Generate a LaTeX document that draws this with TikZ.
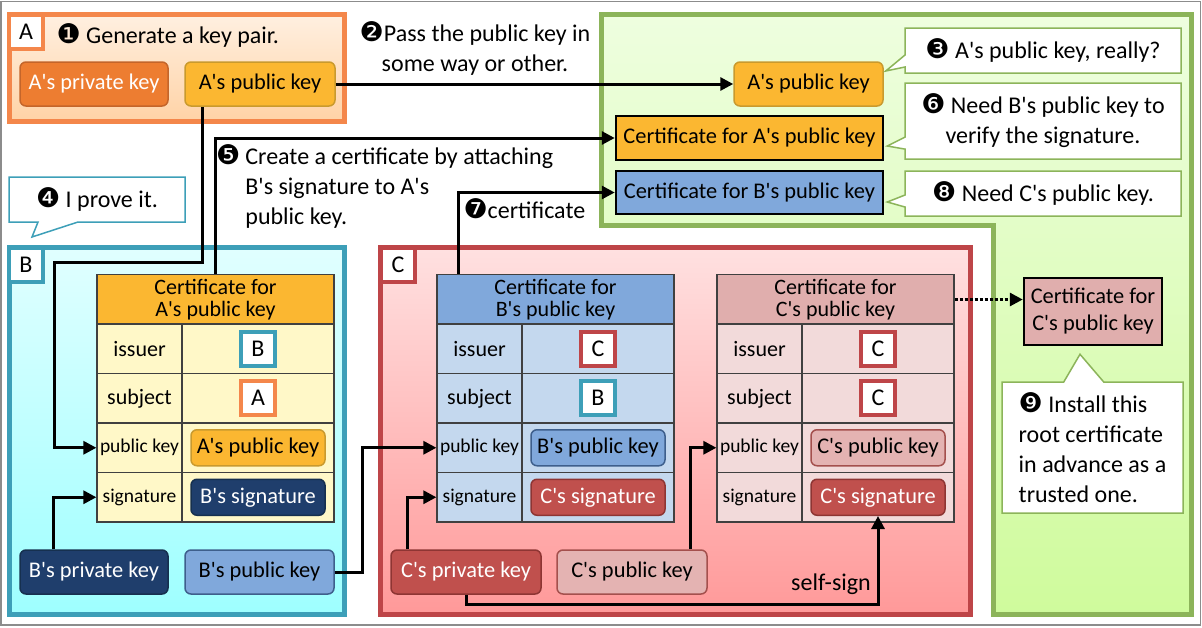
\documentclass[tikz,border=0pt]{standalone}
\usepackage{fontspec}
\setmainfont{Carlito}[Ligatures=TeXOff]
\newfontfamily\dingfont{DejaVu Sans}
\usetikzlibrary{arrows.meta,shapes.callouts}

% frame colours
\definecolor{aorange}{HTML}{F4874B}
\definecolor{bteal}{HTML}{3D9FB8}
\definecolor{cred}{HTML}{BE4548}
\definecolor{ggreen}{HTML}{8CB45A}
% key colours
\definecolor{privA}{HTML}{ED7D31}
\definecolor{privAline}{HTML}{C4652A}
\definecolor{pubA}{HTML}{FBB731}
\definecolor{pubAline}{HTML}{C99A2E}
\definecolor{privB}{HTML}{1F3E6C}
\definecolor{privBline}{HTML}{16304F}
\definecolor{pubB}{HTML}{80A8DB}
\definecolor{pubBline}{HTML}{3E5F8C}
\definecolor{privC}{HTML}{C0504D}
\definecolor{privCline}{HTML}{8E3533}
\definecolor{pubC}{HTML}{E4B3B2}
\definecolor{pubCline}{HTML}{A4504D}
% table bodies
\definecolor{bodyA}{HTML}{FFF8C8}
\definecolor{bodyB}{HTML}{C4D8EE}
\definecolor{bodyC}{HTML}{F2DADA}
\definecolor{headC}{HTML}{E0AEAD}
% region fills
\definecolor{greenTop}{HTML}{EEFEDF}
\definecolor{greenBot}{HTML}{CFFB9C}

\newcommand{\cnum}[1]{{\dingfont\fontsize{27}{27}\selectfont #1}}

\tikzset{
  txtbig/.style={font=\fontsize{24}{30}\selectfont},
  txtmid/.style={font=\fontsize{22}{22}\selectfont},
  txtsmall/.style={font=\fontsize{19.5}{20}\selectfont},
  keybox/.style={draw, rounded corners=6pt, line width=1.5pt, minimum width=148pt,
    minimum height=44pt, inner sep=0pt, font=\fontsize{22.4}{24}\selectfont},
  tkey/.style={keybox, minimum width=134pt, minimum height=36pt},
  letter/.style={draw, line width=4pt, fill=white, minimum size=34pt, inner sep=0pt,
    font=\fontsize{24}{24}\selectfont},
  cell/.style={draw=black!75, line width=1.2pt, inner sep=0pt, minimum height=49.5pt},
  certbox/.style={draw, line width=2.5pt, inner sep=0pt, font=\fontsize{22.4}{27}\selectfont},
  note/.style={rectangle callout, draw=ggreen, line width=1.5pt, fill=white, txtbig,
    inner sep=0pt, callout pointer width=12pt},
  conn/.style={line width=3pt, -{Triangle[length=13pt,width=13pt]}},
}

% certificate table: #1 name, #2 left x, #3 header fill, #4 body fill, #5 header text
\newcommand{\certtable}[5]{%
  \node[cell, fill=#3, minimum width=237pt, txtmid, align=center] (#1-head) at (#2+118.5,299.5) {#5};
  \node[cell, fill=#4, minimum width=85pt, txtmid] (#1-iss) at (#2+42.5,348.75) {issuer};
  \node[cell, fill=#4, minimum width=152pt] (#1-issv) at (#2+161,348.75) {};
  \node[cell, fill=#4, minimum width=85pt, txtmid] (#1-sub) at (#2+42.5,398.25) {subject};
  \node[cell, fill=#4, minimum width=152pt] (#1-subv) at (#2+161,398.25) {};
  \node[cell, fill=#4, minimum width=85pt, txtsmall] (#1-pk) at (#2+42.5,447.75) {public key};
  \node[cell, fill=#4, minimum width=152pt] (#1-pkv) at (#2+161,447.75) {};
  \node[cell, fill=#4, minimum width=85pt, txtsmall] (#1-sig) at (#2+42.5,497.25) {signature};
  \node[cell, fill=#4, minimum width=152pt] (#1-sigv) at (#2+161,497.25) {};
}

\begin{document}
\begin{tikzpicture}[x=1pt, y=-1pt]
\useasboundingbox (0,0) rectangle (1202,627);
\draw[black!45, line width=1.2pt] (1,1.5) rectangle (1200.5,625);

% regions
\draw[draw=ggreen, line width=5pt, top color=greenTop, bottom color=greenBot]
  (601,14.5) -- (1191.5,14.5) -- (1191.5,614.5) -- (993.5,614.5) -- (993.5,225.5) -- (601,225.5) -- cycle;
\draw[draw=aorange, line width=5pt, top color=orange!12!white, bottom color=orange!35!white]
  (9.5,14.5) rectangle (344.5,121.5);
\draw[draw=bteal, line width=5pt, top color=cyan!12!white, bottom color=cyan!38!white]
  (9.5,247.5) rectangle (344.5,614.5);
\draw[draw=cred, line width=5pt, top color=red!12!white, bottom color=red!40!white]
  (380.5,247.5) rectangle (970.5,614.5);
\node[letter, draw=aorange] (labA) at (26,31.5) {A};
\node[letter, draw=bteal] (labB) at (26,265) {B};
\node[letter, draw=cred] (labC) at (398,265) {C};

% A
\node[txtbig, anchor=west] (step1) at (53,35) {\cnum{❶} Generate a key pair.};
\node[keybox, fill=privA, draw=privAline, text=white] (aprivA) at (94,84) {A's private key};
\node[keybox, fill=pubA, draw=pubAline, minimum width=150pt] (apubA) at (260,84) {A's public key};

% B
\certtable{ta}{97}{pubA}{bodyA}{Certificate for\\A's public key}
\node[letter, draw=bteal] (ta-B) at (ta-issv) {B};
\node[letter, draw=aorange] (ta-A) at (ta-subv) {A};
\node[tkey, fill=pubA, draw=pubAline] (ta-key) at (ta-pkv) {A's public key};
\node[tkey, fill=privB, draw=privBline, text=white] (ta-sign) at (ta-sigv) {B's signature};
\node[keybox, fill=privB, draw=privBline, text=white] (bpriv) at (94,572) {B's private key};
\node[keybox, fill=pubB, draw=pubBline, minimum width=149pt] (bpub) at (259.5,572) {B's public key};

% C
\certtable{tb}{437}{pubB}{bodyB}{Certificate for\\B's public key}
\node[letter, draw=cred] (tb-C) at (tb-issv) {C};
\node[letter, draw=bteal] (tb-B) at (tb-subv) {B};
\node[tkey, fill=pubB, draw=pubBline] (tb-key) at (tb-pkv) {B's public key};
\node[tkey, fill=privC, draw=privCline, text=white] (tb-sign) at (tb-sigv) {C's signature};
\certtable{tc}{717}{headC}{bodyC}{Certificate for\\C's public key}
\node[letter, draw=cred] (tc-C) at (tc-issv) {C};
\node[letter, draw=cred] (tc-C2) at (tc-subv) {C};
\node[tkey, fill=pubC, draw=pubCline] (tc-key) at (tc-pkv) {C's public key};
\node[tkey, fill=privC, draw=privCline, text=white] (tc-sign) at (tc-sigv) {C's signature};
\node[keybox, fill=privC, draw=privCline, text=white, minimum width=150pt] (cpriv) at (466,572) {C's private key};
\node[keybox, fill=pubC, draw=pubCline, minimum width=150pt] (cpub) at (632,572) {C's public key};

% verifier
\node[keybox, fill=pubA, draw=pubAline, minimum width=149pt] (apubG) at (808.5,84) {A's public key};
\node[certbox, fill=pubA, minimum width=267pt, minimum height=44pt] (certAg) at (749.5,138) {Certificate for A's public key};
\node[certbox, fill=pubB, minimum width=267pt, minimum height=43pt] (certBg) at (749.5,192.5) {Certificate for B's public key};
\node[certbox, fill=headC, minimum width=138pt, minimum height=67pt, align=center] (certCg) at (1093,311.5) {Certificate for\\C's public key};

% speech
\node[note, minimum width=276pt, minimum height=45pt,
  callout absolute pointer={([xshift=2pt,yshift=13pt]apubG.east)}] (say3) at (1043,50.5) {\cnum{❸} A's public key, really?};
\node[note, minimum width=276pt, minimum height=76pt, align=center,
  callout absolute pointer={([xshift=3pt,yshift=-8pt]certAg.east)}] (say6) at (1043,121) {\cnum{❻} Need B's public key to\\verify the signature.};
\node[note, minimum width=276pt, minimum height=45pt,
  callout absolute pointer={([xshift=3pt,yshift=-9.5pt]certBg.east)}] (say8) at (1043,193.5) {\cnum{❽} Need C's public key.};
\node[note, minimum width=181pt, minimum height=131pt, align=left, callout pointer width=40pt,
  callout absolute pointer={([xshift=-13pt,yshift=-8pt]certCg.south)}] (say9) at (1092.5,447.5)
  {\cnum{❾} Install this\\root certificate\\in advance as a\\trusted one.};
\node[note, draw=bteal, minimum width=176pt, minimum height=45pt, callout pointer width=40pt,
  callout absolute pointer={(32,237)}] (say4) at (97,199.5) {\cnum{❹} I prove it.};

% steps
\node[txtbig, align=center] (step2) at (475,48) {\cnum{❷}Pass the public key in\\some way or other.};
\node[txtbig, anchor=north west, inner sep=0pt] (step5) at (216,143)
  {\begin{tabular}{@{}l@{\hspace{5pt}}l@{}}\cnum{❺}&Create a certificate by attaching\\&B's signature to A's\\&public key.\end{tabular}};
\node[txtbig, anchor=west] (step7) at (460,209) {\cnum{❼}certificate};
\node[txtbig] (selfsign) at (831,584) {self-sign};

% connectors
\coordinate (bendA) at (54,262);
\draw[conn] (apubA.east) -- (apubG.west);
\draw[conn] ([xshift=18pt]apubA.south west) |- (bendA) |- (ta-pk.west);
\draw[conn] (ta-head.north) |- (certAg.west);
\draw[conn] ([xshift=34pt]bpriv.north west) |- (ta-sig.west);
\draw[conn] (bpub.east) -- ++(28,0) |- (tb-pk.west);
\draw[conn] ([xshift=22pt]tb-head.north west) |- (certBg.west);
\draw[conn] ([xshift=17pt]cpriv.north west) |- (tb-sig.west);
\draw[conn] ([xshift=-17pt]cpub.north east) |- (tc-pk.west);
\draw[conn] (cpriv.south) -- ++(0,10) -| (tc-sign.south);
\draw[conn, dotted] (tc-head.east) -- (tc-head.east -| certCg.west);
\end{tikzpicture}
\end{document}
